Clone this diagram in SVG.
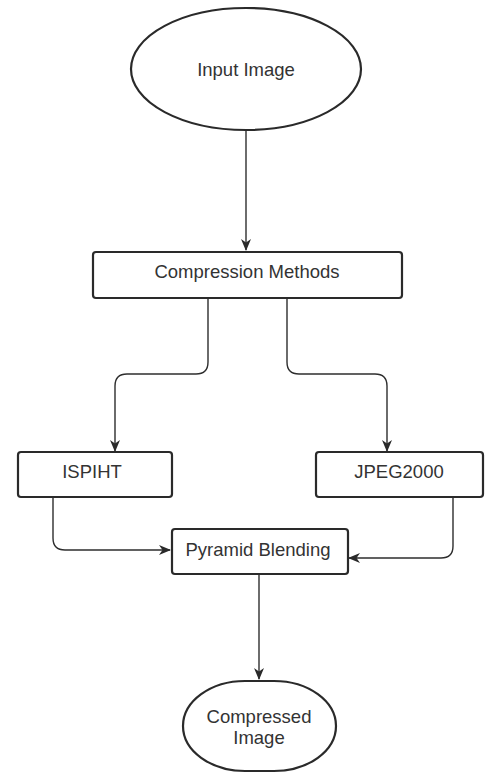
<svg xmlns="http://www.w3.org/2000/svg" width="485" height="773" viewBox="0 0 485 773">
<defs>
<style>
.node{fill:#fff;stroke:#2a2a2a;stroke-width:2.2}
.lbl{font-family:"Liberation Sans",Arial,sans-serif;font-size:18.5px;fill:#333;text-anchor:middle}
.conn{fill:none;stroke:#2e2e2e;stroke-width:1.4}
</style>
<marker id="arr" viewBox="0 0 12 10" refX="11" refY="5" markerWidth="12" markerHeight="10" markerUnits="userSpaceOnUse" orient="auto">
<path d="M0,0 L12,5 L0,10 L3.5,5 z" fill="#2a2a2a"/>
</marker>
</defs>
<rect width="485" height="773" fill="#fff"/>
<g id="connectors">
<path class="conn" d="M246,131 V250" marker-end="url(#arr)"/>
<path class="conn" d="M208,298 V362 Q208,374 196,374 H127 Q115,374 115,386 V451" marker-end="url(#arr)"/>
<path class="conn" d="M287,298 V362 Q287,374 299,374 H375 Q387,374 387,386 V451" marker-end="url(#arr)"/>
<path class="conn" d="M53,497 V538 Q53,550 65,550 H170" marker-end="url(#arr)"/>
<path class="conn" d="M453,497 V546 Q453,558 441,558 H349" marker-end="url(#arr)"/>
<path class="conn" d="M259,575 V679" marker-end="url(#arr)"/>
</g>
<g id="input-image">
<ellipse class="node" cx="246" cy="69" rx="115" ry="61"/>
<text class="lbl" x="246" y="76">Input Image</text>
</g>
<g id="compression-methods">
<rect class="node" x="93" y="252" width="309" height="46" rx="3"/>
<text class="lbl" x="247" y="278">Compression Methods</text>
</g>
<g id="ispiht">
<rect class="node" x="18" y="452" width="154" height="45" rx="3"/>
<text class="lbl" x="92" y="478">ISPIHT</text>
</g>
<g id="jpeg2000">
<rect class="node" x="316" y="452" width="167" height="45" rx="3"/>
<text class="lbl" x="399" y="478">JPEG2000</text>
</g>
<g id="pyramid-blending">
<rect class="node" x="172" y="529" width="176" height="45" rx="3"/>
<text class="lbl" x="258" y="556">Pyramid Blending</text>
</g>
<g id="compressed-image">
<rect class="node" x="183" y="681" width="153" height="90" rx="62" ry="45"/>
<text class="lbl" x="259" y="723">Compressed</text>
<text class="lbl" x="259" y="744">Image</text>
</g>
</svg>
